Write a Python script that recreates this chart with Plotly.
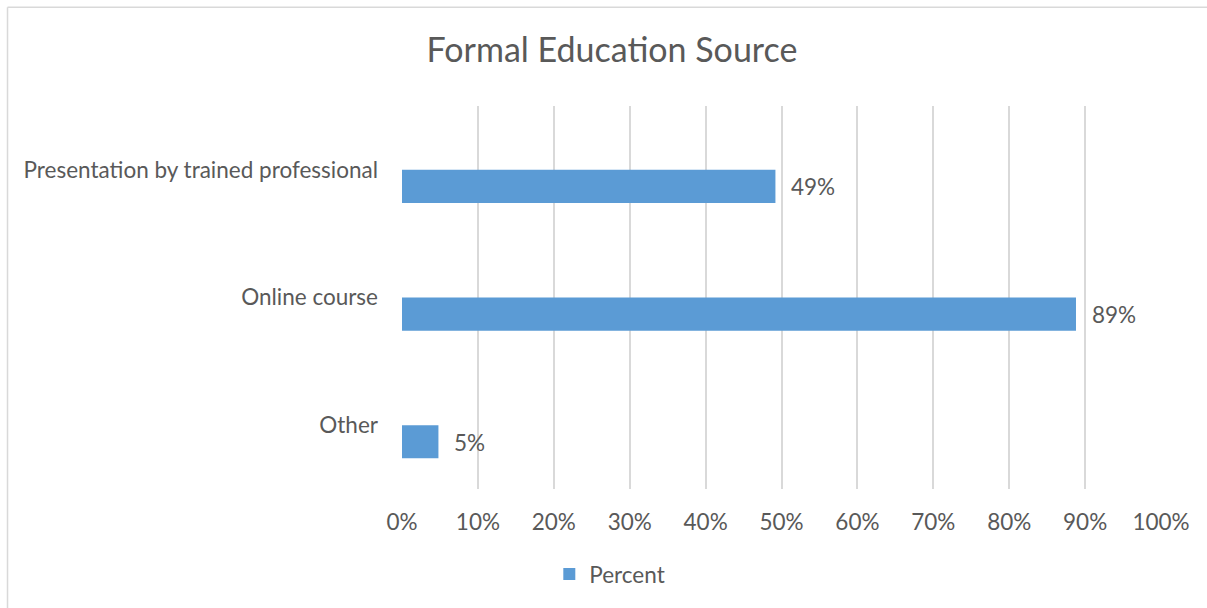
import plotly.graph_objects as go

categories = ["Other", "Online course", "Presentation by trained professional"]
percent = [0.048, 0.888, 0.492]
series_name = "Percent"
title_text = "Formal Education Source"
x_ticks = [0, 0.1, 0.2, 0.3, 0.4, 0.5, 0.6, 0.7, 0.8, 0.9, 1.0]

FONT = "Lato"
GREY = "#595959"
BAR = "#5B9BD5"
GRID = "#D9D9D9"
FS = 22.5

W, H = 1207, 608
L, R, T, B = 401.5, 45.5, 105.5, 118.5
pw, ph = W - L - R, H - T - B

fig = go.Figure()
fig.add_trace(go.Bar(
    y=categories, x=percent, orientation="h", name=series_name,
    marker=dict(color=BAR, line=dict(width=0)),
    width=0.26, offset=-0.26,
    hoverinfo="x+y",
))

annotations = []
for c, v in zip(categories, percent):
    annotations.append(dict(
        x=v, y=c, xref="x", yref="y", text=f"{v:.0%}", showarrow=False,
        xanchor="left", yanchor="middle", xshift=14, yshift=-17,
        font=dict(family=FONT, size=FS, color=GREY),
    ))

def px2paper_x(x):
    return (x - L) / pw

def px2paper_y(y):
    return (H - B - y) / ph

border = dict(color=GRID, width=1.5)
fig.update_layout(
    width=W, height=H,
    margin=dict(l=L, r=R, t=T, b=B, autoexpand=False),
    paper_bgcolor="white", plot_bgcolor="white",
    font=dict(family=FONT, size=FS, color=GREY),
    title=dict(text=title_text, x=612 / W, xref="container", xanchor="center",
               y=1 - 50 / H, yref="container", yanchor="middle",
               font=dict(family=FONT, size=34, color=GREY)),
    xaxis=dict(range=[0, 1], tickvals=x_ticks, tickformat=".0%",
               showgrid=True, gridcolor=GRID, gridwidth=1.6,
               zeroline=False, showline=False, ticks="",
               ticklabelstandoff=17,
               tickfont=dict(family=FONT, size=FS, color=GREY)),
    yaxis=dict(type="category", categoryorder="array", categoryarray=categories,
               showgrid=False, zeroline=False, showline=False, ticks="",
               ticklabelstandoff=23,
               tickfont=dict(family=FONT, size=FS, color=GREY)),
    showlegend=True,
    legend=dict(x=px2paper_x(549), xanchor="left", y=px2paper_y(575), yanchor="middle",
                orientation="h", font=dict(family=FONT, size=FS, color=GREY),
                bgcolor="rgba(0,0,0,0)", itemwidth=30),
    annotations=annotations,
    shapes=[
        dict(type="line", xref="paper", yref="paper",
             x0=px2paper_x(6.5), x1=px2paper_x(6.5),
             y0=px2paper_y(6.5), y1=px2paper_y(630), line=border, layer="below"),
        dict(type="line", xref="paper", yref="paper",
             x0=px2paper_x(6.5), x1=px2paper_x(1230),
             y0=px2paper_y(6.5), y1=px2paper_y(6.5), line=border, layer="below"),
    ],
)

fig.write_html("out.html", config={"displayModeBar": False},
               post_script="document.body.style.margin='0';document.body.style.overflow='hidden';")
